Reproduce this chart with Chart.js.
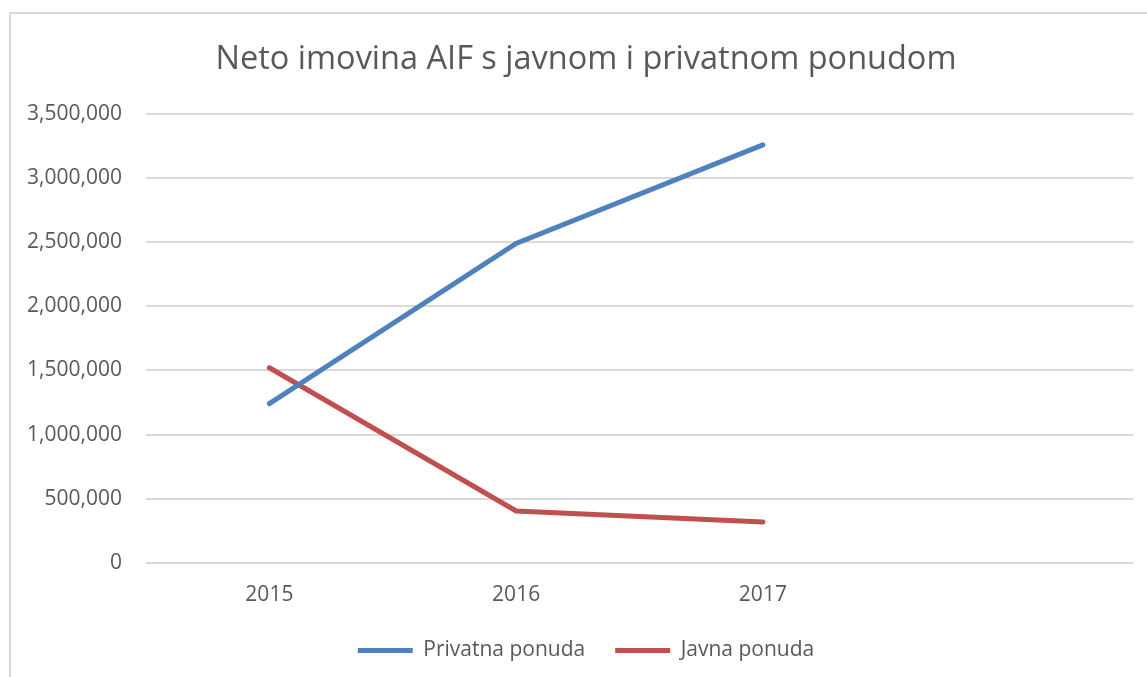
<!DOCTYPE html>
<html>
<head>
<meta charset="utf-8">
<script src="https://cdn.jsdelivr.net/npm/chart.js@4.4.0/dist/chart.umd.min.js"></script>
<style>
  html, body { margin: 0; padding: 0; background: #fff; overflow: hidden; }
  #box {
    position: absolute; left: 9px; top: 12px;
    width: 1152px; height: 680px;
    border-left: 2px solid #d9d9d9; border-top: 2px solid #d9d9d9;
  }
  #wrap { position: relative; width: 1150px; height: 663px; }
</style>
</head>
<body>
<div id="box"><div id="wrap"><canvas id="graphCanvas"></canvas></div></div>
<script>
const years = ['2015', '2016', '2017', ''];
const privatna = [1242000, 2491000, 3259000];
const javna = [1521000, 404000, 318000];
const seriesNames = ['Privatna ponuda', 'Javna ponuda'];
const yTicks = [0, 500000, 1000000, 1500000, 2000000, 2500000, 3000000, 3500000];

const textColor = '#595959';
const fontFam = "'Open Sans', 'Noto Sans', sans-serif";

const ctx = document.getElementById('graphCanvas');
const myChart = new Chart(ctx, {
    type: 'line',
    data: {
        labels: years,
        datasets: [{
            label: seriesNames[0],
            data: privatna,
            borderColor: '#4f81bd',
            backgroundColor: '#4f81bd',
            borderWidth: 5,
            borderCapStyle: 'round',
            pointRadius: 0,
            tension: 0
        }, {
            label: seriesNames[1],
            data: javna,
            borderColor: '#c0504d',
            backgroundColor: '#c0504d',
            borderWidth: 5,
            borderCapStyle: 'round',
            pointRadius: 0,
            tension: 0
        }]
    },
    options: {
        responsive: true,
        maintainAspectRatio: false,
        animation: false,
        layout: { padding: { left: 0, right: 0, top: 0, bottom: 6 } },
        plugins: {
            title: {
                display: true,
                text: 'Neto imovina AIF s javnom i privatnom ponudom',
                color: textColor,
                font: { family: fontFam, size: 32.5, weight: 'normal' },
                padding: { top: 26, bottom: 35 }
            },
            legend: {
                position: 'bottom',
                labels: {
                    color: textColor,
                    font: { family: fontFam, size: 21 },
                    usePointStyle: true,
                    pointStyle: 'line',
                    pointStyleWidth: 55,
                    boxHeight: 5,
                    padding: 30
                }
            },
            tooltip: { enabled: false }
        },
        scales: {
            x: {
                offset: true,
                grid: { display: false },
                border: { display: false },
                afterFit: function (scale) { scale.height = scale.height - 10; },
                ticks: {
                    color: textColor,
                    font: { family: fontFam, size: 21 },
                    padding: 12,
                    maxRotation: 0
                }
            },
            y: {
                min: 0,
                max: 3500000,
                afterBuildTicks: function (scale) {
                    scale.ticks = yTicks.map(v => ({ value: v }));
                },
                afterFit: function (scale) { scale.width = 135; },
                grid: { color: '#d9d9d9', lineWidth: 2, drawTicks: false },
                border: { display: false },
                ticks: {
                    color: textColor,
                    font: { family: fontFam, size: 21 },
                    padding: 24,
                    callback: function (v) { return v.toLocaleString('en-US'); }
                }
            },
            // empty right-hand space so the plot stops short of the frame
            yRight: {
                position: 'right',
                grid: { display: false },
                border: { display: false },
                ticks: { display: false },
                afterFit: function (scale) { scale.width = 28; }
            }
        }
    }
});
</script>
</body>
</html>
